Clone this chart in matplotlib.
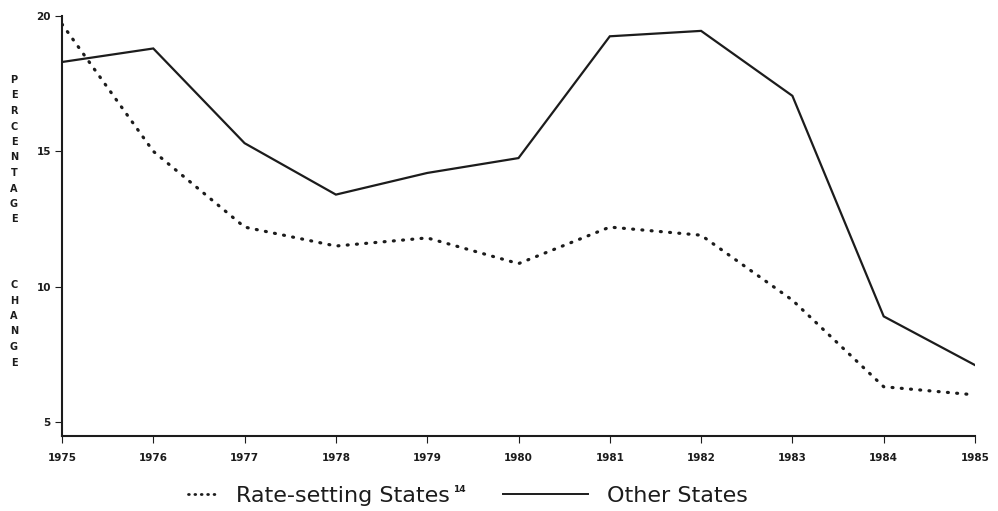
import matplotlib
matplotlib.use("Agg")
import matplotlib.pyplot as plt
from matplotlib.lines import Line2D

years = [1975, 1976, 1977, 1978, 1979, 1980, 1981, 1982, 1983, 1984, 1985]
rate_setting = [19.7, 15.0, 12.2, 11.5, 11.8, 10.85, 12.2, 11.9, 9.5, 6.3, 6.0]
other_states = [18.3, 18.8, 15.3, 13.4, 14.2, 14.75, 19.25, 19.45, 17.05, 8.9, 7.1]
y_ticks = [5, 10, 15, 20]
series_labels = ["Rate-setting States", "Other States"]
footnote_mark = "14"
ylabel_words = ["PERCENTAGE", "CHANGE"]

W, H = 998, 511
fig = plt.figure(figsize=(W / 100, H / 100), dpi=100)
ax = fig.add_axes([62 / W, 1 - 436 / H, (975 - 62) / W, (436 - 16) / H])

ink = "#1c1c1c"
ax.plot(years, other_states, color=ink, lw=1.6, solid_joinstyle="miter")
ax.plot(years, rate_setting, color=ink, lw=2.3, linestyle=(0, (0.3, 2.6)),
        dash_capstyle="round")

ax.set_xlim(years[0], years[-1])
ax.set_ylim(4.48, 20.0)
ax.set_xticks(years)
ax.set_xticklabels([str(y) for y in years])
ax.set_yticks(y_ticks)
ax.tick_params(axis="both", direction="out", length=5, width=0.8, color=ink,
               labelsize=7.5, labelcolor=ink)
ax.tick_params(axis="x", pad=7)
ax.tick_params(axis="y", pad=3)
for lab in ax.get_xticklabels() + ax.get_yticklabels():
    lab.set_fontweight("bold")
    lab.set_family("DejaVu Sans")
for s in ["top", "right"]:
    ax.spines[s].set_visible(False)
for s in ["left", "bottom"]:
    ax.spines[s].set_color(ink)
    ax.spines[s].set_linewidth(1.5)

# vertical stacked y label
step = 15.5
for wi, word in enumerate(ylabel_words):
    start = 80 if wi == 0 else 285
    for i, ch in enumerate(word):
        fig.text(14 / W, 1 - (start + i * step) / H, ch, ha="center", va="center",
                 fontsize=7, fontweight="bold", color=ink, family="DejaVu Sans")

# legend (drawn manually to match the original's sample lengths)
ly = 1 - 494 / H
fig.add_artist(Line2D([188 / W, 216 / W], [ly, ly], transform=fig.transFigure,
                      color=ink, lw=2.0, linestyle=(0, (0.3, 2.0)), dash_capstyle="round"))
t1 = fig.text(236 / W, 1 - 502 / H, series_labels[0], ha="left", va="baseline",
              fontsize=16, color=ink, family="DejaVu Sans")
fig.add_artist(Line2D([503 / W, 588 / W], [ly, ly], transform=fig.transFigure,
                      color=ink, lw=1.4))
fig.text(607 / W, 1 - 502 / H, series_labels[1], ha="left", va="baseline",
         fontsize=16, color=ink, family="DejaVu Sans")

fig.canvas.draw()
bb = t1.get_window_extent(fig.canvas.get_renderer())
fig.text((bb.x1 + 3) / W, 1 - 485 / H, footnote_mark, ha="left", va="top",
         fontsize=6.5, fontweight="bold", color=ink, family="DejaVu Sans")

fig.savefig("out.png", dpi=100, facecolor="white")
